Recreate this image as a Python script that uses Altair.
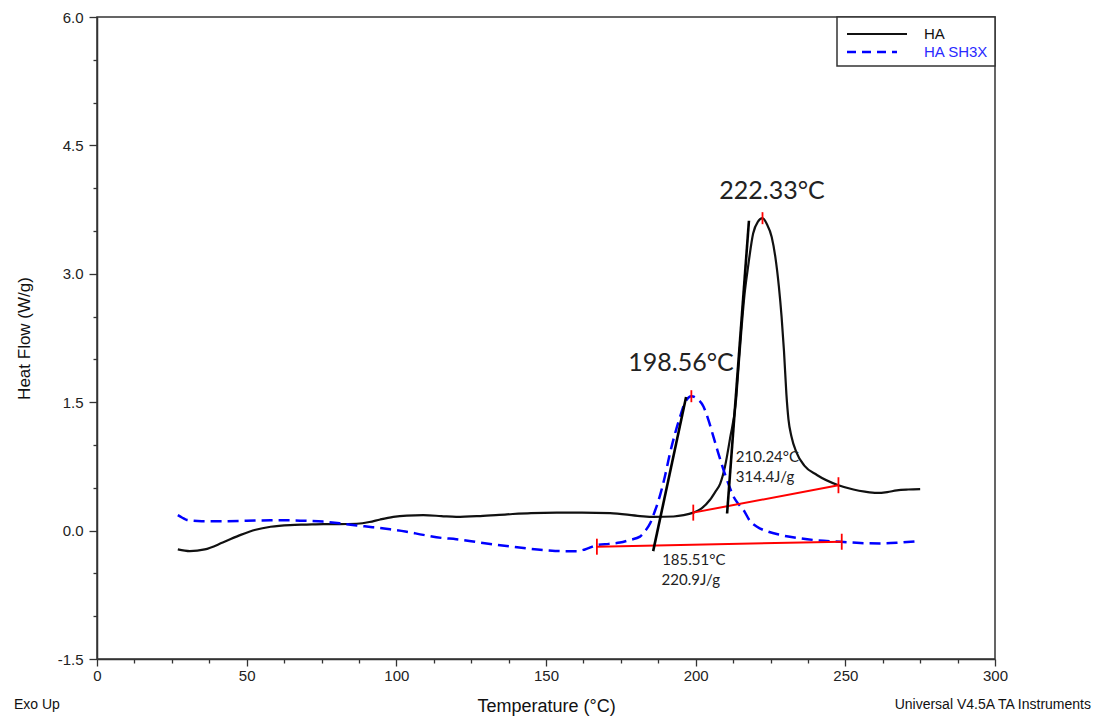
import altair as alt
import pandas as pd

# DSC heat-flow traces (Temperature in °C, Heat Flow in W/g)
ha_temp = [27, 31, 36, 42, 48, 53, 58, 64.5, 70, 75.6, 81, 86.8, 91, 94.6, 99,
           103.5, 109, 115, 120, 128, 137, 145, 153.6, 162, 171.4, 181.4, 186, 192.6,
           196, 199.2, 202, 204.8, 206.5, 208.2, 209.8, 211.5, 213.5, 214.3, 215.2,
           216.3, 217.5, 219.2, 220.8, 222.33, 223.8, 225.4, 226.6, 227.8, 228.7,
           229.5, 230.3, 231.0, 232.0, 233.6, 236.3, 240.5, 247.7, 252.7, 256.5,
           260.5, 264, 267.2, 271, 275]
ha_flow = [-0.22, -0.24, -0.22, -0.14, -0.05, 0.01, 0.045, 0.065, 0.07, 0.075, 0.075,
           0.08, 0.10, 0.13, 0.16, 0.175, 0.18, 0.17, 0.16, 0.17, 0.19, 0.205, 0.21,
           0.21, 0.205, 0.17, 0.16, 0.165, 0.18, 0.21, 0.26, 0.36, 0.45, 0.55, 0.75,
           1.08, 1.53, 1.9, 2.31, 2.75, 3.08, 3.47, 3.61, 3.65, 3.58, 3.43, 3.2, 2.85,
           2.5, 2.1, 1.6, 1.3, 1.10, 0.92, 0.76, 0.65, 0.53, 0.48, 0.455, 0.44, 0.45,
           0.47, 0.48, 0.485]

sh_temp = [27, 28.5, 30, 35, 42, 50, 58, 64.5, 70, 75.5, 81, 86.8, 92, 97.9, 103,
           109, 115, 120, 128, 139, 150.2, 156, 160.3, 163, 167, 171, 174.7, 178,
           181.4, 183, 184.8, 186.3, 188, 189.7, 191.4, 193, 194.8, 196.5, 198.56,
           200.5, 202.6, 204.2, 205.9, 207.6, 209.3, 211, 212.6, 214.3, 216, 218,
           220.5, 224, 228.2, 234.9, 241, 248.3, 255, 261.7, 268, 275]
sh_flow = [0.18, 0.15, 0.125, 0.11, 0.11, 0.115, 0.12, 0.12, 0.115, 0.105, 0.085,
           0.06, 0.04, 0.015, -0.01, -0.05, -0.085, -0.10, -0.14, -0.19, -0.23, -0.24,
           -0.24, -0.22, -0.17, -0.155, -0.14, -0.11, -0.07, -0.01, 0.085, 0.22, 0.4,
           0.63, 0.9, 1.12, 1.33, 1.5, 1.57, 1.54, 1.45, 1.3, 1.1, 0.9, 0.71, 0.54,
           0.40, 0.31, 0.24, 0.12, 0.045, -0.01, -0.05, -0.09, -0.115, -0.13, -0.145,
           -0.15, -0.14, -0.12]

# Integration baselines (red) and onset tangents (black)
base_id = ["HA", "HA", "SH3X", "SH3X"]
base_temp = [199.2, 247.7, 167.0, 248.8]
base_flow = [0.21, 0.53, -0.188, -0.13]

tan_id = ["HA", "HA", "SH3X", "SH3X"]
tan_temp = [210.5, 217.8, 185.8, 196.8]
tan_flow = [0.2, 3.62, -0.24, 1.56]

peak_temp = [198.56, 222.33]
peak_flow = [1.57, 3.65]

big_text = ["222.33°C", "198.56°C"]
big_temp = [225.5, 195.1]
big_flow = [3.97, 1.96]

small_text = ["210.24°C", "314.4J/g", "185.51°C", "220.9J/g"]
small_temp = [213.4, 213.4, 188.8, 188.6]
small_flow = [0.86, 0.63, -0.34, -0.58]

y_ticks = [-1.5 + 0.5 * i for i in range(16)]
x_ticks = [12.5 * i for i in range(25)]

W, H = 898, 642
FONT = "Liberation Sans"
NOTE_FONT = "Lato"

ha = pd.DataFrame({"t": ha_temp, "hf": ha_flow})
sh = pd.DataFrame({"t": sh_temp, "hf": sh_flow})
base = pd.DataFrame({"id": base_id, "t": base_temp, "hf": base_flow})
tan = pd.DataFrame({"id": tan_id, "t": tan_temp, "hf": tan_flow})
peaks = pd.DataFrame({"t": peak_temp, "hf": peak_flow})
bigs = pd.DataFrame({"label": big_text, "t": big_temp, "hf": big_flow})
smalls = pd.DataFrame({"label": small_text, "t": small_temp, "hf": small_flow})
one = pd.DataFrame({"k": [0]})

x_scale = alt.Scale(domain=[0, 300], nice=False, zero=False)
y_scale = alt.Scale(domain=[-1.5, 6.0], nice=False, zero=False)

x_axis = alt.Axis(
    values=x_ticks,
    labelExpr="datum.value % 50 === 0 ? format(datum.value, 'd') : ''",
    tickSize={"condition": {"test": "datum.value % 50 === 0", "value": 7}, "value": 4},
    labelPadding=2, labelFontSize=15, labelColor="#222", labelFont=FONT,
    labelFlush=False, labelOverlap=False, grid=False,
    domainColor="#333", domainWidth=1.5, tickColor="#333", tickWidth=1.3,
    title="Temperature (°C)", titleFont=FONT, titleFontSize=18,
    titleFontWeight="normal", titleColor="#111", titlePadding=14,
)
y_axis = alt.Axis(
    values=y_ticks,
    labelExpr=("abs(datum.value % 1.5) < 1e-6 ? "
               "replace(format(datum.value, '.1f'), '\u2212', '-') : ''"),
    tickSize={"condition": {"test": "abs(datum.value % 1.5) < 1e-6", "value": 8}, "value": 4},
    labelPadding=6, labelFontSize=15, labelColor="#222", labelFont=FONT,
    labelFlush=False, labelOverlap=False, grid=False,
    domainColor="#333", domainWidth=1.5, tickColor="#333", tickWidth=1.3,
    title="Heat Flow (W/g)", titleFont=FONT, titleFontSize=17,
    titleFontWeight="normal", titleColor="#111", titlePadding=24,
)

X = alt.X("t:Q", scale=x_scale, axis=x_axis)
Y = alt.Y("hf:Q", scale=y_scale, axis=y_axis)

ha_line = alt.Chart(ha).mark_line(color="#111", strokeWidth=2.2, interpolate="monotone").encode(x=X, y=Y)
sh_line = alt.Chart(sh).mark_line(
    color="#0000ff", strokeWidth=2.5, strokeDash=[11, 6], interpolate="monotone"
).encode(x=X, y=Y)

base_lines = alt.Chart(base).mark_line(color="#ff0000", strokeWidth=2).encode(
    x=X, y=Y, detail="id:N")
base_caps = alt.Chart(base).mark_point(
    shape="M0,-1L0,1", size=256, color="#ff0000", strokeWidth=1.8, filled=False, opacity=1
).encode(x=X, y=Y)
peak_caps = alt.Chart(peaks).mark_point(
    shape="M0,-1L0,1", size=144, color="#ff0000", strokeWidth=1.8, filled=False, opacity=1
).encode(x=X, y=Y)
tan_lines = alt.Chart(tan).mark_line(color="#000", strokeWidth=2.6).encode(
    x=X, y=Y, detail="id:N")

big_labels = alt.Chart(bigs).mark_text(
    font=NOTE_FONT, fontSize=25, color="#222", align="center", baseline="middle"
).encode(x=X, y=Y, text="label:N")
small_labels = alt.Chart(smalls).mark_text(
    font=NOTE_FONT, fontSize=15, color="#222", align="left", baseline="middle"
).encode(x=X, y=Y, text="label:N")

# Legend box in the upper-right corner
leg_box = alt.Chart(one).mark_rect(fill="white", stroke="#333", strokeWidth=1.5).encode(
    x=alt.value(740), x2=alt.value(W), y=alt.value(0), y2=alt.value(49))
leg_ha = alt.Chart(one).mark_rule(color="#111", strokeWidth=2).encode(
    x=alt.value(750), x2=alt.value(810), y=alt.value(17))
leg_sh = alt.Chart(one).mark_rule(color="#0000ff", strokeWidth=2.5, strokeDash=[9, 6]).encode(
    x=alt.value(750), x2=alt.value(800), y=alt.value(35))
leg_ha_txt = alt.Chart(one).mark_text(
    text="HA", font=FONT, fontSize=15, color="#111", align="left", baseline="middle"
).encode(x=alt.value(827), y=alt.value(17))
leg_sh_txt = alt.Chart(one).mark_text(
    text="HA SH3X", font=FONT, fontSize=15, color="#2a2aff", align="left", baseline="middle"
).encode(x=alt.value(827), y=alt.value(35))

# Footer notes
exo = alt.Chart(one).mark_text(
    text="Exo Up", font=FONT, fontSize=14, color="#111", align="left", baseline="middle"
).encode(x=alt.value(-83), y=alt.value(H + 46))
brand = alt.Chart(one).mark_text(
    text="Universal V4.5A TA Instruments", font=FONT, fontSize=14, color="#111",
    align="right", baseline="middle"
).encode(x=alt.value(W + 96), y=alt.value(H + 46))

chart = alt.layer(
    ha_line, sh_line, base_lines, base_caps, peak_caps, tan_lines,
    big_labels, small_labels,
    leg_box, leg_ha, leg_sh, leg_ha_txt, leg_sh_txt, exo, brand,
).properties(
    width=W, height=H,
    autosize=alt.AutoSizeParams(type="none"),
    padding={"left": 97, "top": 17, "right": 104, "bottom": 65},
    background="white",
).configure_view(
    stroke="#333", strokeWidth=1.5
)

chart.save("out.html", embed_options={"renderer": "svg", "actions": False})
